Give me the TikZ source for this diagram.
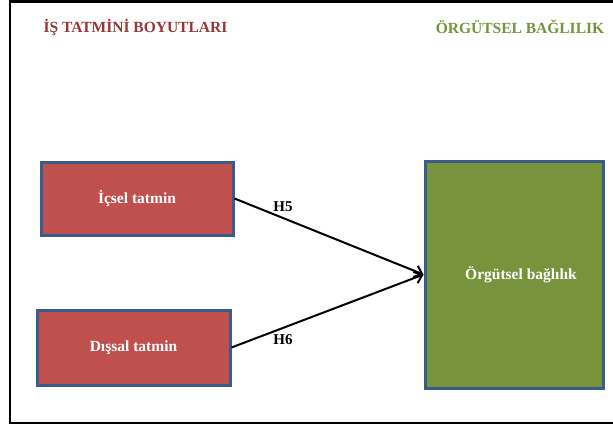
\documentclass[tikz,border=0pt]{standalone}
\usepackage{fontspec}
\setmainfont{Liberation Serif}
\usetikzlibrary{arrows.meta}
\definecolor{boxred}{HTML}{C0504D}
\definecolor{boxblue}{HTML}{385D8A}
\definecolor{boxgreen}{HTML}{77933C}
\definecolor{titlered}{HTML}{953735}
\definecolor{titlegreen}{HTML}{77933C}
\tikzset{
  redbox/.style={draw=boxblue, line width=3pt, fill=boxred, inner sep=0pt,
    text=white, font=\fontsize{15.5}{18}\selectfont\bfseries},
  greenbox/.style={draw=boxblue, line width=3pt, fill=boxgreen, inner sep=0pt,
    text=white, font=\fontsize{15.5}{18}\selectfont\bfseries},
  titletext/.style={font=\fontsize{15.5}{18}\selectfont\bfseries, inner sep=0pt},
  hlabel/.style={font=\fontsize{15}{17}\selectfont\bfseries, inner sep=0pt},
  link/.style={line width=2pt, -{Straight Barb[length=7pt,width=12pt,line width=2pt]}}
}
\begin{document}
\begin{tikzpicture}[x=1pt,y=-1pt]
\useasboundingbox (0,0) rectangle (613,428);
\fill[white] (0,0) rectangle (613,428);
% frame
\draw[line width=2.5pt, black] (614,1.5) -- (10,1.5) -- (10,423) -- (614,423);
% titles
\node[titletext, text=titlered] (t1) at (135.5,27) {İŞ TATMİNİ BOYUTLARI};
\node[titletext, text=titlegreen] (t2) at (520,27) {ÖRGÜTSEL BAĞLILIK};
% boxes
\node[redbox, minimum width=192pt, minimum height=73pt] (ic) at (137,198.5) {İçsel tatmin};
\node[redbox, minimum width=193pt, minimum height=75pt] (di) at (133.5,347.5) {Dışsal tatmin};
\node[greenbox, minimum width=178pt, minimum height=227pt] (og) at (514,274.5) {\hspace*{14pt}Örgütsel bağlılık};
% connectors
\draw[link] (ic.east) -- (og.west);
\draw[link] (di.east) -- (og.west);
% labels
\node[hlabel] (h5) at (283,207) {H5};
\node[hlabel] (h6) at (283,340) {H6};
\end{tikzpicture}
\end{document}
